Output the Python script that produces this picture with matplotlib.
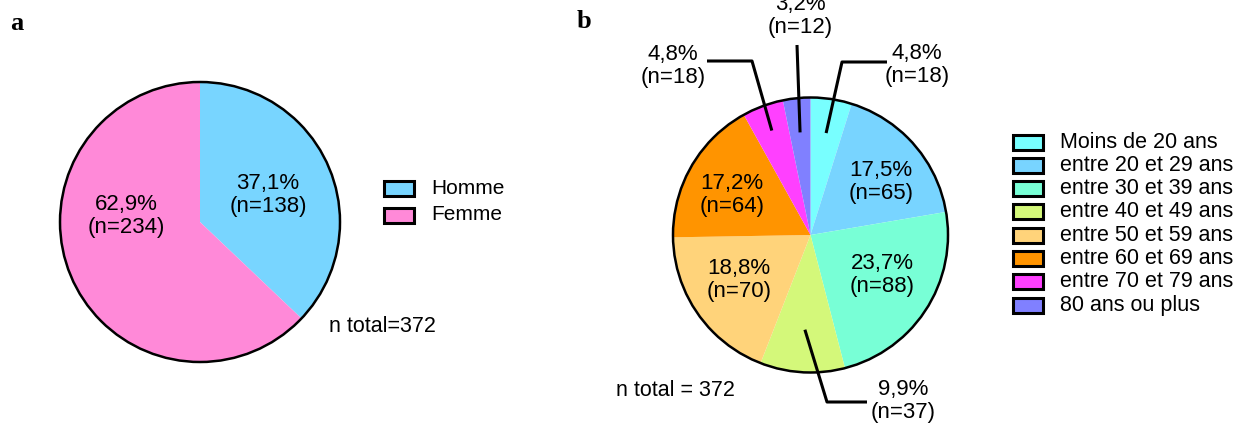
import matplotlib
matplotlib.use("Agg")
import matplotlib.pyplot as plt
from matplotlib.patches import Rectangle, Circle
import numpy as np

plt.rcParams['font.family'] = ['Liberation Sans', 'DejaVu Sans']

# ---------------- data ----------------
sex_labels = ["Homme", "Femme"]
sex_counts = [138, 234]
sex_colors = ["#78D5FF", "#FF89D8"]

age_labels = ["Moins de 20 ans", "entre 20 et 29 ans", "entre 30 et 39 ans",
              "entre 40 et 49 ans", "entre 50 et 59 ans", "entre 60 et 69 ans",
              "entre 70 et 79 ans", "80 ans ou plus"]
age_counts = [18, 65, 88, 37, 70, 64, 18, 12]
age_colors = ["#78FFFF", "#78D4FF", "#78FFD6", "#D4F87A", "#FFD37A",
              "#FF9400", "#FF40FF", "#8080FF"]

W, H = 1250, 426
fig = plt.figure(figsize=(W / 100, H / 100), dpi=100)
ax = fig.add_axes([0, 0, 1, 1])


def Y(y):
    return H - y


def lab(c, total):
    return f"{100 * c / total:.1f}".replace(".", ",") + f"%\n(n={c})"


FS = 16

# ---------------- pie a ----------------
ca, ra = (200, Y(222)), 140
tot_a = sum(sex_counts)
ax.pie(sex_counts, colors=sex_colors, startangle=90, counterclock=False,
       center=ca, radius=ra, wedgeprops=dict(linewidth=0), frame=True)
ax.add_patch(Circle(ca, ra, fill=False, edgecolor="black", lw=1.8, zorder=3))
a_text_pos = [(268, 195), (126, 216)]
for c, (x, y) in zip(sex_counts, a_text_pos):
    ax.text(x, Y(y), lab(c, tot_a), ha="center", va="center", fontsize=FS,
            linespacing=1.15)
ax.text(329, Y(327), f"n total={tot_a}", ha="left", va="center", fontsize=15.5)

# legend a
for i, (l, col) in enumerate(zip(sex_labels, sex_colors)):
    yc = 188 + 27 * i
    ax.add_patch(Rectangle((384, Y(yc) - 7.5), 30, 15, facecolor=col,
                           edgecolor="black", lw=2.2, zorder=3))
    ax.text(431, Y(yc), l, ha="left", va="center", fontsize=15)

ax.text(10, Y(23), "a", ha="left", va="center", fontsize=19,
        fontweight="bold", family="Liberation Serif")

# ---------------- pie b ----------------
cb, rb = (810.5, Y(235)), 137.5
tot_b = sum(age_counts)
wedges, _ = ax.pie(age_counts, colors=age_colors, startangle=90,
                   counterclock=False, center=cb, radius=rb,
                   wedgeprops=dict(linewidth=0), frame=True)
ax.add_patch(Circle(cb, rb, fill=False, edgecolor="black", lw=1.8, zorder=3))

# inside labels (index -> text centre)
inside = {1: (881, 182), 2: (882, 275), 4: (739, 280), 5: (732, 195)}
for i, (x, y) in inside.items():
    ax.text(x, Y(y), lab(age_counts[i], tot_b), ha="center", va="center",
            fontsize=FS, linespacing=1.15)

# outside labels with leader lines: index -> (anchor radius frac, elbow pts, text centre)
outside = {
    0: (0.75, [(842, 62), (887, 62)], (917, 65)),
    6: (0.81, [(752, 61), (707, 61)], (673, 66)),
    7: (0.75, [(797, 45)], (800, 16)),
    3: (0.69, [(827, 402), (867, 402)], (903, 401)),
}
for i, (fr, pts, (tx, ty)) in outside.items():
    w = wedges[i]
    ang = np.deg2rad((w.theta1 + w.theta2) / 2)
    x0 = cb[0] + fr * rb * np.cos(ang)
    y0 = cb[1] + fr * rb * np.sin(ang)
    xs = [x0] + [p[0] for p in pts]
    ys = [y0] + [Y(p[1]) for p in pts]
    ax.plot(xs, ys, color="black", lw=2.2, solid_capstyle="butt", zorder=4)
    ax.text(tx, Y(ty), lab(age_counts[i], tot_b), ha="center", va="center",
            fontsize=FS, linespacing=1.15)

ax.text(616, Y(390), f"n total = {tot_b}", ha="left", va="center", fontsize=15.5)

# legend b
for i, (l, col) in enumerate(zip(age_labels, age_colors)):
    yc = 142 + 23.3 * i
    ax.add_patch(Rectangle((1013, Y(yc) - 7.5), 30, 15, facecolor=col,
                           edgecolor="black", lw=2.2, zorder=3))
    ax.text(1060, Y(yc), l, ha="left", va="center", fontsize=15.5)

ax.text(577, Y(21), "b", ha="left", va="center", fontsize=19,
        fontweight="bold", family="Liberation Serif")

ax.set_xlim(0, W)
ax.set_ylim(0, H)
ax.set_aspect("auto")
ax.axis("off")
fig.savefig("out.png", dpi=100)
